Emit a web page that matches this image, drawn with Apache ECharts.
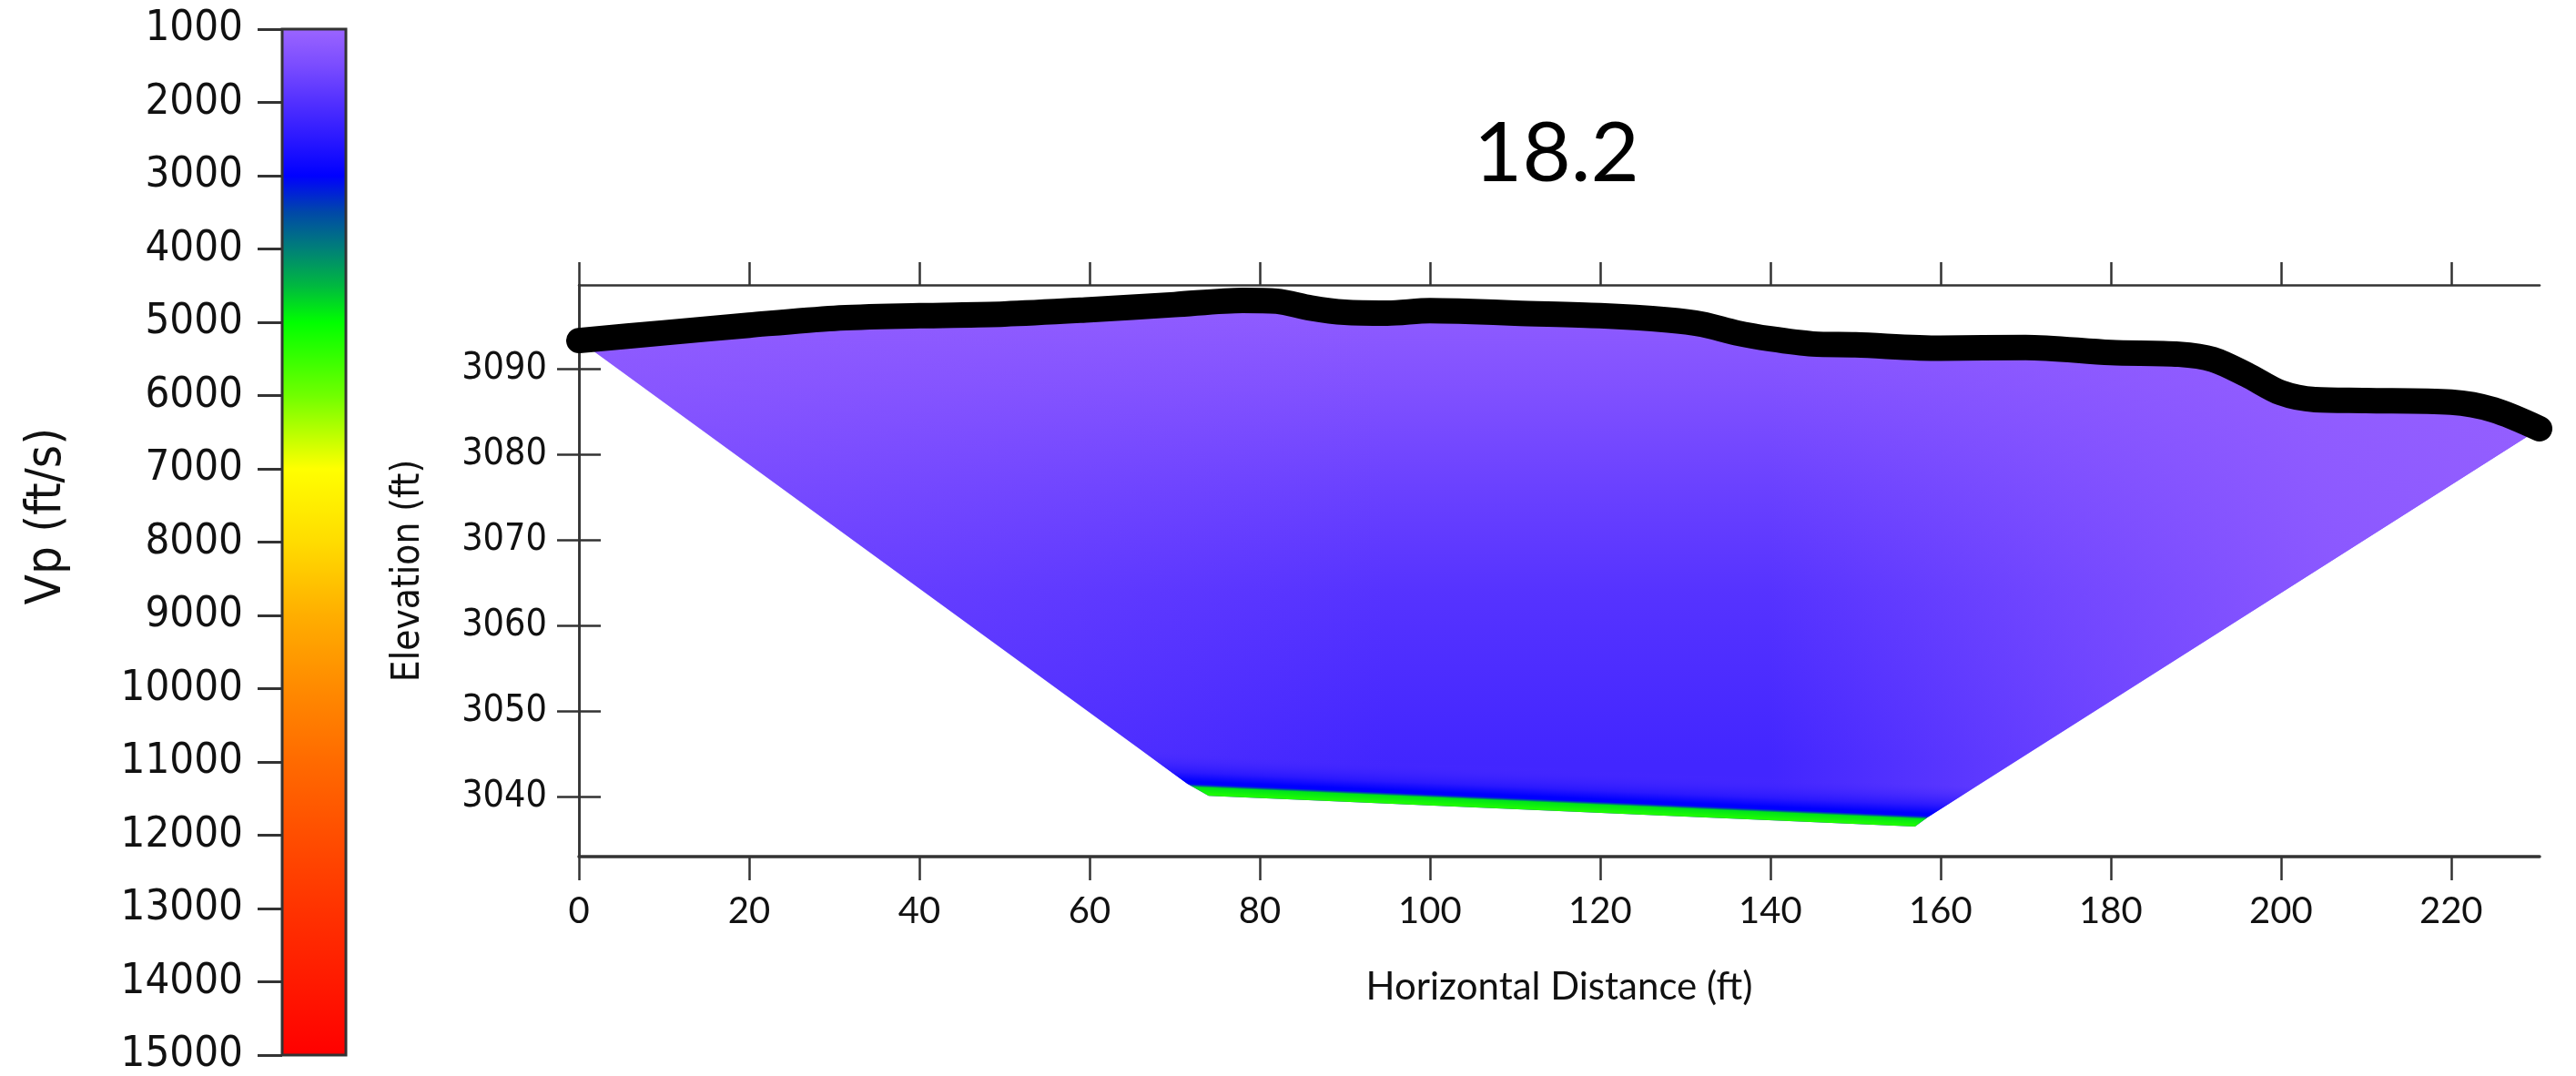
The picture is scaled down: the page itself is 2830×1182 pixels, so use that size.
<!DOCTYPE html>
<html>
<head>
<meta charset="utf-8">
<title>18.2</title>
<script src="https://cdn.jsdelivr.net/npm/echarts@6.0.0/dist/echarts.min.js"></script>
<style>
    html, body { margin: 0; padding: 0; background: #fff; }
    #chart { width: 2830px; height: 1182px; }
</style>
</head>
<body>
<div id="chart"></div>
<script>
// tick labels
var xTicks = [0, 20, 40, 60, 80, 100, 120, 140, 160, 180, 200, 220];
var elevTicks = [3040, 3050, 3060, 3070, 3080, 3090];

// ground surface (ft, ft)
var surfaceX = [0, 10, 20, 30, 40, 50, 60, 70, 78, 82, 86, 90, 95, 100, 105, 110, 120, 128, 132, 136,
    140, 145, 150, 160, 170, 180, 188, 192, 196, 200, 204, 210, 220, 225, 230.4];
var surfaceElev = [3093.3, 3094.2, 3095.1, 3095.9, 3096.2, 3096.4, 3096.9, 3097.5, 3098.0, 3097.9, 3097.1,
    3096.6, 3096.5, 3096.8, 3096.7, 3096.5, 3096.2, 3095.7, 3095.2, 3094.2, 3093.5, 3092.9, 3092.8,
    3092.4, 3092.5, 3091.9, 3091.7, 3091.1, 3089.3, 3087.2, 3086.4, 3086.3, 3086.1, 3085.2, 3083.0];

// base of the ray coverage (left corner -> right corner)
var baseX = [71.5, 74, 157, 158.5];
var baseElev = [3041.5, 3040.1, 3036.5, 3037.6];

// colour scale Vp (ft/s)
var cbVp = [1000, 1500, 2000, 2500, 3000, 3500, 4000, 4500, 5000, 6000, 7000, 8000, 9000,
    10000, 11000, 12000, 13000, 14000, 15000];
var cbColors = ["#9b64ff", "#7a4cff", "#5230ff", "#2a18ff", "#0000ff", "#0048a8", "#008078", "#00b840",
    "#00ff00", "#70ff00", "#ffff00", "#ffdc00", "#ffae00", "#ff8a00", "#ff6a00", "#ff4e00",
    "#ff3300", "#ff1a00", "#ff0000"];

// velocity with elevation in the middle of the section
var profileElev = [3098, 3088, 3076, 3064, 3052, 3044];
var profileVp = [1150, 1400, 1700, 1950, 2100, 2200];

// lighter (slower) flanks, left and right
var lateralX = [0, 45, 95, 140, 175, 205, 230.4];
var lateralWeight = [0.4, 0.2, 0, 0, 0.45, 0.8, 0.92];
var lateralVp = 1080;

// fast layer at the base (ft above base)
var bandDepth = [5, 2.6, 1.6, 1.3, 1.1, 0.95, 0];
var bandVp = [2100, 2500, 3000, 3000, 3800, 4800, 5300];
var bandAlpha = [0, 1, 1, 1, 1, 1, 1];

function hexRgb(h) {
    return [parseInt(h.substr(1, 2), 16), parseInt(h.substr(3, 2), 16), parseInt(h.substr(5, 2), 16)];
}

// colour of a velocity from the colour bar
function vpColor(v, a) {
    var i = 0;
    while (i < cbVp.length - 2 && v > cbVp[i + 1]) i++;
    var t = (v - cbVp[i]) / (cbVp[i + 1] - cbVp[i]);
    t = Math.max(0, Math.min(1, t));
    var c0 = hexRgb(cbColors[i]), c1 = hexRgb(cbColors[i + 1]);
    var rgb = [0, 1, 2].map(function (k) {
        return Math.round(c0[k] + (c1[k] - c0[k]) * t);
    });
    return "rgba(" + rgb.join(",") + "," + a + ")";
}

// velocity section
function renderField(params, api) {
    var pts = [];
    surfaceX.forEach(function (x, i) {
        pts.push(api.coord([x, surfaceElev[i]]));
    });
    for (var j = baseX.length - 1; j >= 0; j--) {
        pts.push(api.coord([baseX[j], baseElev[j]]));
    }

    var yTop = api.coord([0, profileElev[0]])[1];
    var yBot = api.coord([0, profileElev[profileElev.length - 1]])[1];
    var vStops = profileElev.map(function (e, i) {
        return {offset: (api.coord([0, e])[1] - yTop) / (yBot - yTop), color: vpColor(profileVp[i], 1)};
    });

    var xl = api.coord([lateralX[0], 3060])[0];
    var xr = api.coord([lateralX[lateralX.length - 1], 3060])[0];
    var hStops = lateralX.map(function (x, i) {
        return {offset: (api.coord([x, 3060])[0] - xl) / (xr - xl), color: vpColor(lateralVp, lateralWeight[i])};
    });

    var p = api.coord([baseX[1], baseElev[1]]);
    var q = api.coord([baseX[2], baseElev[2]]);
    var dx = q[0] - p[0], dy = q[1] - p[1];
    var len = Math.sqrt(dx * dx + dy * dy);
    var nx = dy / len, ny = -dx / len;
    var h = p[1] - api.coord([baseX[1], baseElev[1] + bandDepth[0]])[1];
    var mx = (p[0] + q[0]) / 2, my = (p[1] + q[1]) / 2;
    var bStops = bandDepth.map(function (d, i) {
        return {offset: 1 - d / bandDepth[0], color: vpColor(bandVp[i], bandAlpha[i])};
    });

    return {
        type: "group",
        children: [
            {type: "polygon", shape: {points: pts.slice()},
                style: {fill: new echarts.graphic.LinearGradient(0, yTop, 0, yBot, vStops, true)}},
            {type: "polygon", shape: {points: pts.slice()},
                style: {fill: new echarts.graphic.LinearGradient(xl, 0, xr, 0, hStops, true)}},
            {type: "polygon", shape: {points: pts.slice()},
                style: {fill: new echarts.graphic.LinearGradient(mx + nx * h, my + ny * h, mx, my, bStops, true)}}
        ]
    };
}

// colour bar
function renderColorbar(params, api) {
    var last = cbVp.length - 1;
    var p0 = api.coord([0, cbVp[0]]);
    var p1 = api.coord([1, cbVp[last]]);
    var stops = cbVp.map(function (v, i) {
        return {offset: (v - cbVp[0]) / (cbVp[last] - cbVp[0]), color: cbColors[i]};
    });
    return {
        type: "rect",
        shape: {x: p0[0], y: p0[1], width: p1[0] - p0[0], height: p1[1] - p0[1]},
        style: {
            fill: new echarts.graphic.LinearGradient(0, p0[1], 0, p1[1], stops, true),
            stroke: "#333",
            lineWidth: 3
        }
    };
}

function plain(v) {
    return String(v);
}

var tahoma = '"DejaVu Sans Condensed", "DejaVu Sans", sans-serif';
var calibri = 'Lato, "Open Sans", sans-serif';
var axisLine = {show: true, lineStyle: {color: "#333", width: 2.5}};
var tickStyle = {color: "#333", width: 2.5};

var chart = echarts.init(document.getElementById("chart"));
var option = {
    backgroundColor: "#fff",
    animation: false,
    graphic: [
        {
            type: "text", x: 1710, y: 169,
            style: {text: "18.2", fontSize: 92, fontFamily: calibri, fill: "#000", align: "center", verticalAlign: "middle"}
        },
        {
            type: "text", x: 52, y: 567, rotation: Math.PI / 2,
            style: {text: "Vp (ft/s)", fontSize: 54, fontFamily: tahoma, fill: "#111", align: "center", verticalAlign: "middle"}
        }
    ],
    grid: [
        {left: 636, right: 40, top: 313, bottom: 241, outerBoundsMode: "none"},
        {left: 310, width: 70, top: 32, bottom: 23, outerBoundsMode: "none"}
    ],
    xAxis: [
        {
            gridIndex: 0, type: "value", min: 0, max: 230.4, position: "bottom",
            axisLine: {show: true, lineStyle: {color: "#333", width: 3.5}},
            axisTick: {show: true, inside: false, length: 26, customValues: xTicks, lineStyle: tickStyle},
            axisLabel: {customValues: xTicks, formatter: plain, margin: 40, fontFamily: calibri, fontSize: 40, color: "#111"},
            splitLine: {show: false},
            name: "Horizontal Distance (ft)", nameLocation: "middle", nameGap: 122,
            nameTextStyle: {fontFamily: calibri, fontSize: 42, color: "#111"}
        },
        {
            gridIndex: 0, type: "value", min: 0, max: 230.4, position: "top",
            axisLine: axisLine,
            axisTick: {show: true, inside: false, length: 25, customValues: xTicks, lineStyle: tickStyle},
            axisLabel: {show: false},
            splitLine: {show: false}
        },
        {gridIndex: 1, type: "value", min: 0, max: 1, show: false}
    ],
    yAxis: [
        {
            gridIndex: 0, type: "value", min: 3033, max: 3099.8, position: "left",
            axisLine: axisLine,
            axisTick: {show: true, inside: false, length: 24, customValues: elevTicks, lineStyle: tickStyle},
            axisLabel: {customValues: elevTicks, formatter: plain, margin: 35, fontFamily: tahoma, fontSize: 41, color: "#111"},
            splitLine: {show: false},
            name: "Elevation (ft)", nameLocation: "middle", nameGap: 166, nameRotate: 90,
            nameTextStyle: {fontFamily: tahoma, fontSize: 42, color: "#111"}
        },
        {
            gridIndex: 0, type: "value", min: 3033, max: 3099.8, position: "right",
            axisLine: axisLine,
            axisTick: {show: true, inside: false, length: 24, customValues: elevTicks, lineStyle: tickStyle},
            axisLabel: {show: false},
            splitLine: {show: false}
        },
        {
            gridIndex: 1, type: "value", min: 1000, max: 15000, interval: 1000, inverse: true, position: "left",
            axisLine: {show: true, lineStyle: {color: "#555", width: 2}},
            axisTick: {show: true, inside: false, length: 27, lineStyle: {color: "#333", width: 3}},
            axisLabel: {formatter: plain, margin: 43, fontFamily: tahoma, fontSize: 47, color: "#111"},
            splitLine: {show: false}
        }
    ],
    series: [
        {
            type: "custom", xAxisIndex: 0, yAxisIndex: 0, data: [0],
            renderItem: renderField, clip: true, silent: true, z: 1
        },
        {
            type: "line", xAxisIndex: 0, yAxisIndex: 0,
            data: surfaceX.map(function (x, i) { return [x, surfaceElev[i]]; }),
            smooth: 0.3, symbol: "none", showSymbol: false, silent: true, clip: false, z: 3,
            lineStyle: {color: "#000", width: 28, cap: "round", join: "round"}
        },
        {
            type: "custom", xAxisIndex: 2, yAxisIndex: 2, data: [0],
            renderItem: renderColorbar, silent: true, z: 2
        }
    ]
};
chart.setOption(option);
</script>
</body>
</html>
